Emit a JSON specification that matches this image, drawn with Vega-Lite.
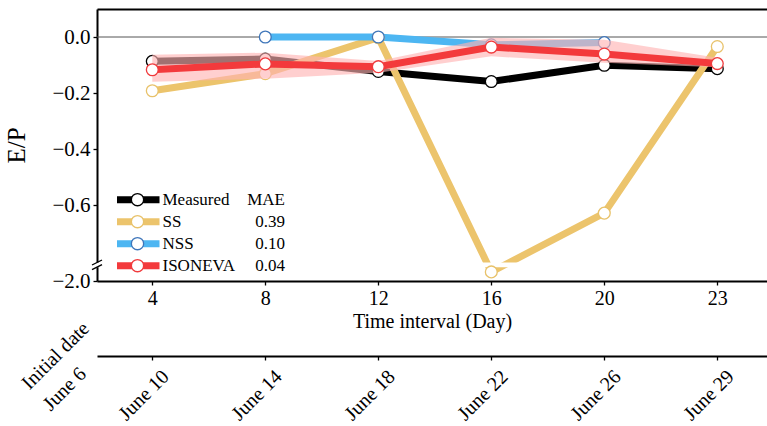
{
  "$schema": "https://vega.github.io/schema/vega-lite/v6.json",
  "width": 670,
  "height": 272,
  "autosize": "none",
  "padding": {"left": 97, "top": 9, "right": 0, "bottom": 145},
  "background": "white",
  "config": {
    "font": "Liberation Serif",
    "view": {"stroke": null},
    "axis": {"labelFont": "Liberation Serif", "titleFont": "Liberation Serif", "titleFontWeight": "normal", "labelColor": "black", "titleColor": "black", "domainColor": "black", "tickColor": "black", "grid": false},
    "legend": {"labelFont": "Liberation Serif", "labelColor": "black", "labelLimit": 400}
  },
  "data": {"values": [
    {"interval": 4, "model": "Measured", "ep": -0.087},
    {"interval": 8, "model": "Measured", "ep": -0.079},
    {"interval": 12, "model": "Measured", "ep": -0.123},
    {"interval": 16, "model": "Measured", "ep": -0.159},
    {"interval": 20, "model": "Measured", "ep": -0.101},
    {"interval": 23, "model": "Measured", "ep": -0.113},
    {"interval": 4, "model": "SS", "ep": -0.192},
    {"interval": 8, "model": "SS", "ep": -0.131},
    {"interval": 12, "model": "SS", "ep": -0.002},
    {"interval": 16, "model": "SS", "ep": -1.58},
    {"interval": 20, "model": "SS", "ep": -0.629},
    {"interval": 23, "model": "SS", "ep": -0.034},
    {"interval": 8, "model": "NSS", "ep": 0.0},
    {"interval": 12, "model": "NSS", "ep": 0.0},
    {"interval": 16, "model": "NSS", "ep": -0.028},
    {"interval": 20, "model": "NSS", "ep": -0.02},
    {"interval": 4, "model": "ISONEVA", "ep": -0.117, "lo": -0.16, "hi": -0.063},
    {"interval": 8, "model": "ISONEVA", "ep": -0.096, "lo": -0.149, "hi": -0.056},
    {"interval": 12, "model": "ISONEVA", "ep": -0.106, "lo": -0.128, "hi": -0.086},
    {"interval": 16, "model": "ISONEVA", "ep": -0.036, "lo": -0.069, "hi": -0.003},
    {"interval": 20, "model": "ISONEVA", "ep": -0.061, "lo": -0.092, "hi": -0.01},
    {"interval": 23, "model": "ISONEVA", "ep": -0.095, "lo": -0.108, "hi": -0.074}
  ]},
  "resolve": {"axis": {"x": "independent", "y": "independent"}},
  "layer": [
    {
      "data": {"values": [{}]},
      "mark": {"type": "rule", "color": "#555555", "strokeWidth": 1},
      "encoding": {
        "y": {"datum": 0, "type": "quantitative", "axis": null}
      }
    },
    {
      "transform": [{"filter": "datum.model != 'ISONEVA'"}],
      "mark": {"type": "line", "strokeWidth": 7},
      "encoding": {
        "x": {"field": "interval", "type": "quantitative",
          "scale": {"domain": [2, 4, 8, 12, 16, 20, 23, 24.32], "range": [0, 55.3, 168.3, 281.3, 394.3, 507.3, 620.3, 670], "nice": false, "zero": false},
          "axis": {"orient": "bottom", "values": [4, 8, 12, 16, 20, 23], "format": "d", "title": "Time interval (Day)", "labelFontSize": 20, "titleFontSize": 20, "tickSize": 4, "tickWidth": 1.3, "domainWidth": 2, "labelPadding": 3, "titlePadding": 3, "labelFlush": false, "labelOverlap": false}},
        "y": {"field": "ep", "type": "quantitative",
          "scale": {"domain": [-2.0, -1.4, -0.8, 0.1], "range": [272, 259, 252, 0], "nice": false, "zero": false},
          "axis": {"orient": "left", "values": [0, -0.2, -0.4, -0.6, -2.0], "format": ".1f", "title": "E/P", "titleFontSize": 25, "labelFontSize": 21, "tickSize": 4, "tickWidth": 1.3, "domainWidth": 2, "labelPadding": 3, "titleX": -68, "titleY": 136, "labelFlush": false, "labelOverlap": false}},
        "color": {"field": "model", "type": "nominal",
          "scale": {"range": ["#F33A3C", "#000000", "#4DB6F2", "#ECC46C"]},
          "legend": {"orient": "none", "legendX": 19.5, "legendY": 180, "title": null, "values": ["Measured", "SS", "NSS", "ISONEVA"], "symbolType": "M-1.6,0H6.9", "symbolSize": 100, "symbolStrokeWidth": 7, "labelFontSize": 17, "labelOffset": 29, "rowPadding": 0, "clipHeight": 21.3}}
      }
    },
    {
      "data": {"values": [{}]},
      "mark": {"type": "rect", "fill": "white"},
      "encoding": {
        "x": {"datum": 1.85, "type": "quantitative", "axis": null},
        "x2": {"datum": 24.32},
        "y": {"datum": -0.929, "type": "quantitative", "axis": null},
        "y2": {"datum": -1.331}
      }
    },
    {
      "transform": [{"filter": "datum.model != 'ISONEVA'"}],
      "mark": {"type": "point", "shape": "circle", "filled": true, "fill": "white", "size": 140, "strokeWidth": 1.3, "opacity": 1},
      "encoding": {
        "x": {"field": "interval", "type": "quantitative", "axis": null},
        "y": {"field": "ep", "type": "quantitative", "axis": null},
        "stroke": {"field": "model", "type": "nominal",
          "scale": {"domain": ["ISONEVA", "Measured", "NSS", "SS"], "range": ["#F03A3C", "#000000", "#3F76BA", "#E8C26A"]},
          "legend": {"orient": "none", "legendX": 32, "legendY": 180, "title": null, "values": ["Measured", "SS", "NSS", "ISONEVA"], "symbolType": "circle", "symbolSize": 150, "symbolStrokeWidth": 1.3, "symbolFillColor": "white", "labelFontSize": 17, "labelAlign": "right", "labelOffset": 139, "rowPadding": 0, "clipHeight": 21.3,
            "labelExpr": "datum.label == 'Measured' ? 'MAE' : datum.label == 'SS' ? '0.39' : datum.label == 'NSS' ? '0.10' : '0.04'"}}
      }
    },
    {
      "transform": [{"filter": "datum.model == 'ISONEVA'"}],
      "mark": {"type": "area", "color": "#FFB3B3", "opacity": 0.63},
      "encoding": {
        "x": {"field": "interval", "type": "quantitative", "axis": null},
        "y": {"field": "lo", "type": "quantitative", "axis": null},
        "y2": {"field": "hi"}
      }
    },
    {
      "transform": [{"filter": "datum.model == 'ISONEVA'"}],
      "mark": {"type": "line", "strokeWidth": 7},
      "encoding": {
        "x": {"field": "interval", "type": "quantitative", "axis": null},
        "y": {"field": "ep", "type": "quantitative", "axis": null},
        "color": {"field": "model", "type": "nominal"}
      }
    },
    {
      "transform": [{"filter": "datum.model == 'ISONEVA'"}],
      "mark": {"type": "point", "shape": "circle", "filled": true, "fill": "white", "size": 140, "strokeWidth": 1.3, "opacity": 1},
      "encoding": {
        "x": {"field": "interval", "type": "quantitative", "axis": null},
        "y": {"field": "ep", "type": "quantitative", "axis": null},
        "stroke": {"field": "model", "type": "nominal"}
      }
    },
    {
      "data": {"values": [{}]},
      "mark": {"type": "point", "shape": "M-1,0.5L1,-0.5", "filled": false, "size": 100, "stroke": "black", "strokeWidth": 1.3, "opacity": 1},
      "encoding": {
        "x": {"datum": 2, "type": "quantitative", "axis": null},
        "y": {"datum": -0.929, "type": "quantitative", "axis": null}
      }
    },
    {
      "data": {"values": [{}]},
      "mark": {"type": "point", "shape": "M-1,0.5L1,-0.5", "filled": false, "size": 100, "stroke": "black", "strokeWidth": 1.3, "opacity": 1},
      "encoding": {
        "x": {"datum": 2, "type": "quantitative", "axis": null},
        "y": {"datum": -1.331, "type": "quantitative", "axis": null}
      }
    },
    {
      "data": {"values": [{}]},
      "mark": {"type": "point", "opacity": 0},
      "encoding": {
        "x": {"datum": 4, "type": "quantitative",
          "axis": {"orient": "bottom", "offset": 75, "values": [4, 8, 12, 16, 20, 23],
            "labelExpr": "datum.value == 4 ? 'June 10' : datum.value == 8 ? 'June 14' : datum.value == 12 ? 'June 18' : datum.value == 16 ? 'June 22' : datum.value == 20 ? 'June 26' : 'June 29'",
            "labelAngle": -45, "labelFontSize": 20, "labelOffset": 6, "labelPadding": 6, "tickSize": 4, "tickWidth": 1.3, "domainWidth": 2, "labelFlush": false, "labelOverlap": false, "labelBound": false,
            "title": ["Initial date", "June 6"], "titleAngle": -45, "titleX": -68, "titleY": 34, "titleAlign": "left", "titleBaseline": "alphabetic", "titleLineHeight": 30, "titleFontSize": 20}}
      }
    },
    {
      "data": {"values": [{}]},
      "mark": {"type": "point", "opacity": 0},
      "encoding": {
        "x": {"datum": 4, "type": "quantitative",
          "axis": {"orient": "top", "ticks": false, "labels": false, "title": null, "domainWidth": 2}}
      }
    }
  ]
}
